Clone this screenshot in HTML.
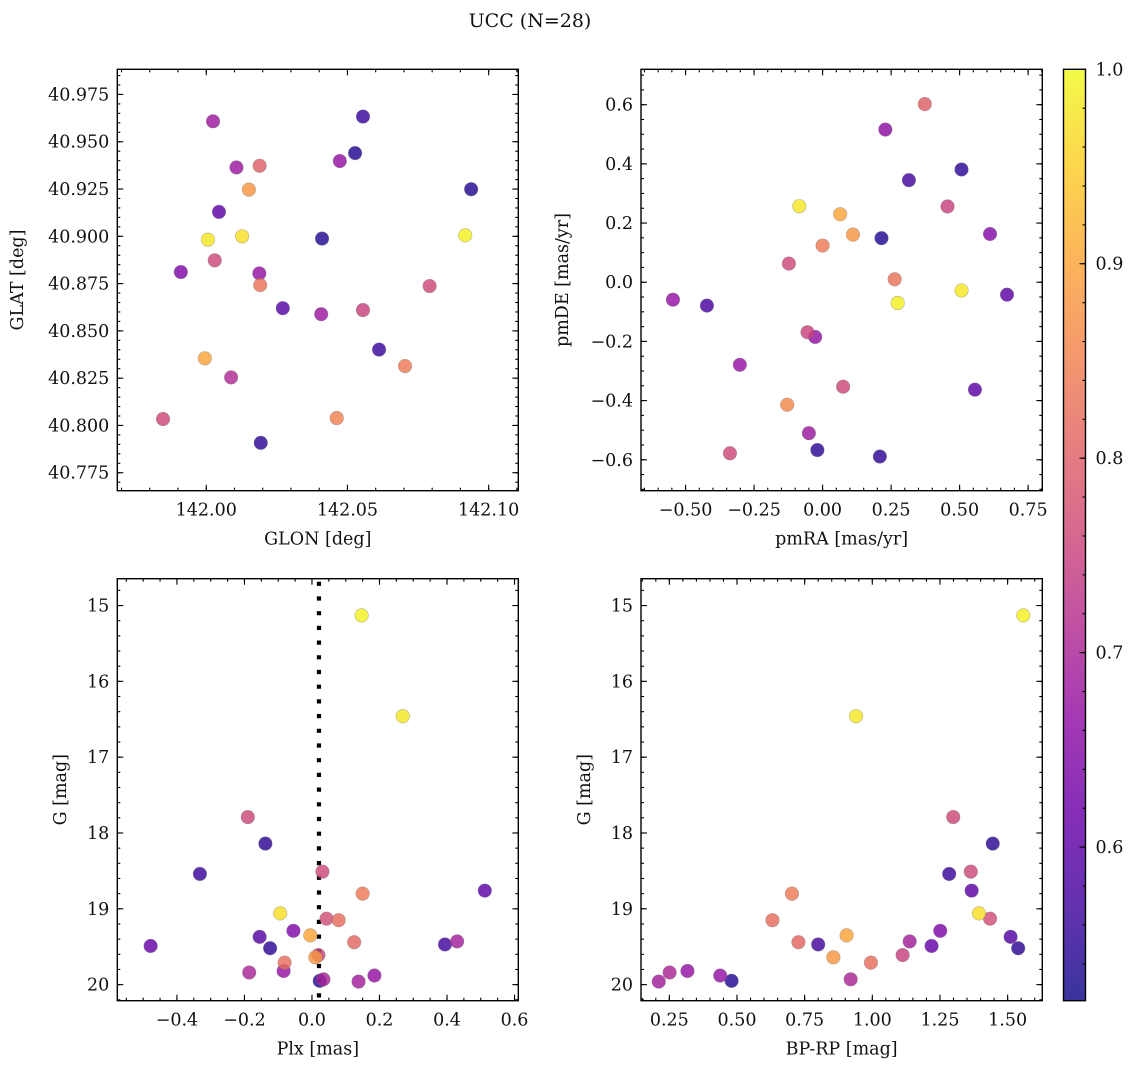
<!DOCTYPE html>
<html><head><meta charset="utf-8"><style>
body{margin:0;background:#fff;}
svg text{font-family:"DejaVu Serif","Liberation Serif",serif;fill:#111;}
</style></head><body>
<svg id="fig" width="1136" height="1068" xmlns="http://www.w3.org/2000/svg">
<rect width="1136" height="1068" fill="#fff"/>
<text x="530" y="27" font-size="19" text-anchor="middle">UCC (N=28)</text>
</svg>
<script>
// ---- data ----
const glon = [142.0024,142.0555,142.0527,142.0473,142.0107,142.0189,142.0151,142.0938,142.0045,142.0006,142.0127,142.041,142.0917,142.003,141.991,142.0188,142.0191,142.0791,142.0271,142.0407,142.0555,142.0612,142.0704,141.9995,142.0088,141.9847,142.0462,142.0193];
const glat = [40.9608,40.9633,40.944,40.9398,40.9364,40.9373,40.9247,40.9249,40.9129,40.8982,40.9,40.8988,40.9005,40.8873,40.8811,40.8804,40.8742,40.8737,40.862,40.8588,40.861,40.8401,40.8314,40.8355,40.8254,40.8034,40.8039,40.7908];
const probTL = [0.68,0.56,0.54,0.67,0.68,0.80,0.88,0.54,0.60,0.98,0.97,0.54,0.99,0.76,0.64,0.67,0.83,0.76,0.59,0.68,0.75,0.56,0.84,0.90,0.71,0.76,0.85,0.55];
const pmra = [0.373,0.229,0.507,0.315,-0.085,0.456,0.064,0.111,0.215,0.611,0.0,-0.123,0.263,0.507,0.274,0.673,-0.546,-0.422,-0.055,-0.027,-0.302,0.075,0.556,-0.129,-0.050,-0.019,-0.338,0.209];
const pmde = [0.602,0.516,0.381,0.345,0.257,0.256,0.230,0.161,0.149,0.163,0.124,0.063,0.010,-0.028,-0.070,-0.042,-0.059,-0.079,-0.169,-0.185,-0.279,-0.353,-0.363,-0.414,-0.510,-0.567,-0.578,-0.589];
const probTR = [0.80,0.66,0.55,0.57,0.98,0.75,0.90,0.88,0.54,0.65,0.84,0.76,0.83,0.98,0.99,0.60,0.67,0.58,0.75,0.67,0.67,0.76,0.60,0.86,0.68,0.55,0.76,0.55];
const plx = [0.147,0.269,-0.190,-0.138,-0.332,0.031,0.512,0.150,-0.094,0.043,0.079,-0.055,-0.005,-0.155,-0.478,-0.124,0.125,0.394,0.430,0.019,0.010,-0.081,-0.186,-0.084,0.034,0.023,0.138,0.185];
const gmag = [15.13,16.46,17.79,18.14,18.54,18.51,18.76,18.80,19.06,19.13,19.15,19.29,19.35,19.37,19.49,19.52,19.44,19.47,19.43,19.61,19.64,19.71,19.84,19.82,19.93,19.95,19.96,19.88];
const bprp = [1.558,0.940,1.299,1.445,1.284,1.364,1.367,0.703,1.394,1.435,0.631,1.251,0.905,1.511,1.219,1.539,0.727,0.800,1.138,1.112,0.856,0.995,0.251,0.317,0.920,0.480,0.211,0.438];
const probB = [0.99,0.98,0.76,0.55,0.56,0.76,0.60,0.84,0.97,0.77,0.82,0.64,0.90,0.59,0.61,0.55,0.81,0.57,0.69,0.75,0.88,0.82,0.70,0.67,0.70,0.54,0.69,0.67];
const plxLine = 0.0207;
const ticksGlon = [142.00,142.05,142.10];
const ticksGlat = [40.775,40.800,40.825,40.850,40.875,40.900,40.925,40.950,40.975];
const ticksPmra = [-0.50,-0.25,0.00,0.25,0.50,0.75];
const ticksPmde = [-0.6,-0.4,-0.2,0.0,0.2,0.4,0.6];
const ticksPlx = [-0.4,-0.2,0.0,0.2,0.4,0.6];
const ticksG = [15,16,17,18,19,20];
const ticksBprp = [0.25,0.50,0.75,1.00,1.25,1.50];
const ticksCbar = [0.6,0.7,0.8,0.9,1.0];
const cmin = 0.521, cmax = 1.0;

const NS = "http://www.w3.org/2000/svg";
const svg = document.getElementById('fig');
function mk(tag, attrs, parent){const e=document.createElementNS(NS,tag);for(const k in attrs)e.setAttribute(k,attrs[k]);(parent||svg).appendChild(e);return e;}
const stops=[[0,'#0d0887'],[0.1,'#41049d'],[0.2,'#6a00a8'],[0.3,'#8f0da4'],[0.4,'#b12a90'],[0.5,'#cc4778'],[0.6,'#e16462'],[0.7,'#f2844b'],[0.8,'#fca636'],[0.9,'#fcce25'],[1,'#f0f921']];
function hx(c){return [1,3,5].map(i=>parseInt(c.substr(i,2),16));}
function plasma(t){t=Math.max(0,Math.min(1,t));for(let i=0;i<stops.length-1;i++){if(t<=stops[i+1][0]){const f=(t-stops[i][0])/(stops[i+1][0]-stops[i][0]);const a=hx(stops[i][1]),b=hx(stops[i+1][1]);return 'rgb('+a.map((v,j)=>Math.round(v+(b[j]-v)*f)).join(',')+')';}}return stops[10][1];}
function fmt(v,d){return (v<0?'\u2212':'')+Math.abs(v).toFixed(d);}

function panel(o){
  const g=mk('g',{});
  
  
  const sx=v=>o.x0+(v-o.xmin)/(o.xmax-o.xmin)*(o.x1-o.x0);
  const sy=o.invY ? (v=>o.y0+(v-o.ymin)/(o.ymax-o.ymin)*(o.y1-o.y0)) : (v=>o.y0+(o.ymax-v)/(o.ymax-o.ymin)*(o.y1-o.y0));
  const fs=17.5;
  const tg=mk('g',{stroke:'#000','stroke-width':1.1},g);
  for(let v=Math.ceil(o.xmin/o.xminor)*o.xminor; v<=o.xmax+1e-9; v+=o.xminor){const x=sx(v);mk('line',{x1:x,x2:x,y1:o.y1,y2:o.y1-3},tg);mk('line',{x1:x,x2:x,y1:o.y0,y2:o.y0+3},tg);}
  for(let v=Math.ceil(o.ymin/o.yminor)*o.yminor; v<=o.ymax+1e-9; v+=o.yminor){const y=sy(v);mk('line',{x1:o.x0,x2:o.x0+3,y1:y,y2:y},tg);mk('line',{x1:o.x1,x2:o.x1-3,y1:y,y2:y},tg);}
  o.xt.forEach(v=>{const x=sx(v);mk('line',{x1:x,x2:x,y1:o.y1,y2:o.y1-6},tg);mk('line',{x1:x,x2:x,y1:o.y0,y2:o.y0+6},tg);
    const t=mk('text',{x:x,y:o.y1+25,'font-size':fs,'text-anchor':'middle'},g);t.textContent=fmt(v,o.xd);
    
    });
  o.yt.forEach(v=>{const y=sy(v);mk('line',{x1:o.x0,x2:o.x0+6,y1:y,y2:y},tg);mk('line',{x1:o.x1,x2:o.x1-6,y1:y,y2:y},tg);
    const t=mk('text',{x:o.x0-8,y:y+6,'font-size':fs,'text-anchor':'end'},g);t.textContent=fmt(v,o.yd);
    
    });
  const xl=mk('text',{x:(o.x0+o.x1)/2,y:o.y1+54,'font-size':fs,'text-anchor':'middle'},g);xl.textContent=o.xlabel;
  
  
  const yl=mk('text',{transform:'translate('+o.ylx+','+((o.y0+o.y1)/2)+') rotate(-90)','font-size':fs,'text-anchor':'middle'},g);yl.textContent=o.ylabel;
  
  
  if(o.vline!==undefined){const l=mk('line',{x1:sx(o.vline),x2:sx(o.vline),y1:o.y0+3,y2:o.y1,stroke:'#000','stroke-width':4.2,'stroke-dasharray':'4.2 10.5'},g);
    
    }
  const idx=o.xs.map((_,i)=>i).sort((a,b)=>o.c[a]-o.c[b]);
  idx.forEach(i=>{const c=mk('circle',{cx:sx(o.xs[i]),cy:sy(o.ys[i]),r:6.8,fill:plasma((o.c[i]-cmin)/(cmax-cmin)),'fill-opacity':0.82,stroke:'#777','stroke-opacity':0.5,'stroke-width':0.6},g);
    
    });
  const fr=mk('rect',{x:o.x0,y:o.y0,width:o.x1-o.x0,height:o.y1-o.y0,fill:'none',stroke:'#000','stroke-width':1.4},g);
  
  
}

panel({name:'sky-position-panel',x0:117.3,x1:518.3,y0:69.3,y1:490.7,xmin:141.9685,xmax:142.1105,ymin:40.7655,ymax:40.9883,
  xs:glon,ys:glat,c:probTL,xt:ticksGlon,yt:ticksGlat,xd:2,yd:3,xminor:0.01,yminor:0.005,xlabel:'GLON [deg]',ylabel:'GLAT [deg]',ylx:23});
panel({name:'proper-motion-panel',x0:641,x1:1042.3,y0:69.3,y1:490.7,xmin:-0.6626,xmax:0.8018,ymin:-0.7045,ymax:0.7196,
  xs:pmra,ys:pmde,c:probTR,xt:ticksPmra,yt:ticksPmde,xd:2,yd:1,xminor:0.05,yminor:0.05,xlabel:'pmRA [mas/yr]',ylabel:'pmDE [mas/yr]',ylx:568});
panel({name:'parallax-magnitude-panel',x0:117.3,x1:518.3,y0:578.7,y1:1000.7,xmin:-0.5767,xmax:0.6112,ymin:14.646,ymax:20.212,invY:true,
  xs:plx,ys:gmag,c:probB,xt:ticksPlx,yt:ticksG,xd:1,yd:0,xminor:0.05,yminor:0.2,xlabel:'Plx [mas]',ylabel:'G [mag]',ylx:66,vline:plxLine});
panel({name:'color-magnitude-panel',x0:641,x1:1042.3,y0:578.7,y1:1000.7,xmin:0.1453,xmax:1.6281,ymin:14.646,ymax:20.212,invY:true,
  xs:bprp,ys:gmag,c:probB,xt:ticksBprp,yt:ticksG,xd:2,yd:0,xminor:0.05,yminor:0.2,xlabel:'BP-RP [mag]',ylabel:'G [mag]',ylx:590});

(function(){
  const x0=1063.5,x1=1085.5,y0=69.3,y1=1000.7;
  const sy=v=>y0+(cmax-v)/(cmax-cmin)*(y1-y0);
  const defs=mk('defs',{});const lg=mk('linearGradient',{id:'cg',x1:0,y1:1,x2:0,y2:0},defs);
  for(let k=0;k<=20;k++){const v=cmin+(cmax-cmin)*k/20;mk('stop',{offset:k/20,'stop-color':plasma((v-cmin)/(cmax-cmin)),'stop-opacity':0.82},lg);}
  const g=mk('g',{});
  
  
  mk('rect',{x:x0,y:y0,width:x1-x0,height:y1-y0,fill:'url(#cg)'},g);
  for(let v=0.54;v<=1.0001;v+=0.02){const y=sy(v);mk('line',{x1:x1,x2:x1-3,y1:y,y2:y,stroke:'#000','stroke-width':1.1},g);}
  ticksCbar.forEach(v=>{const y=sy(v);mk('line',{x1:x1,x2:x1-6,y1:y,y2:y,stroke:'#000','stroke-width':1.1},g);
    const t=mk('text',{x:x1+10,y:y+6,'font-size':17.5},g);t.textContent=v.toFixed(1);
    
    });
  mk('rect',{x:x0,y:y0,width:x1-x0,height:y1-y0,fill:'none',stroke:'#000','stroke-width':1.4},g);
})();
</script>
</body></html>
